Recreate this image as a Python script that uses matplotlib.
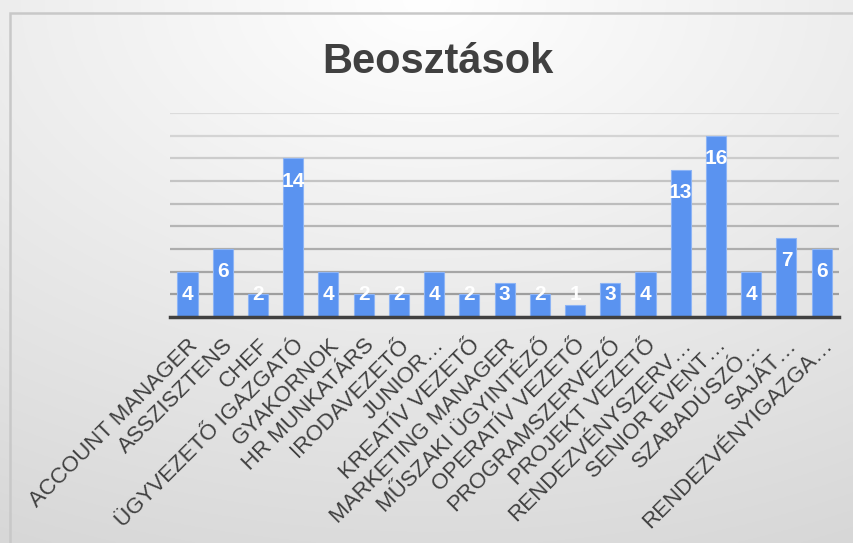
import numpy as np
import matplotlib
matplotlib.use("Agg")
import matplotlib.pyplot as plt
from matplotlib.patches import Rectangle
from matplotlib.transforms import ScaledTranslation

plt.rcParams['font.family'] = ['Liberation Sans', 'DejaVu Sans']

categories = ["ACCOUNT MANAGER", "ASSZISZTENS", "CHEF", "ÜGYVEZETŐ IGAZGATÓ",
              "GYAKORNOK", "HR MUNKATÁRS", "IRODAVEZETŐ", "JUNIOR…",
              "KREATÍV VEZETŐ", "MARKETING MANAGER", "MŰSZAKI ÜGYINTÉZŐ",
              "OPERATÍV VEZETŐ", "PROGRAMSZERVEZŐ", "PROJEKT VEZETŐ",
              "RENDEZVÉNYSZERV…", "SENIOR EVENT…", "SZABADÚSZÓ…", "SAJÁT…",
              "RENDEZVÉNYIGAZGA…"]
values = [4, 6, 2, 14, 4, 2, 2, 4, 2, 3, 2, 1, 3, 4, 13, 16, 4, 7, 6]
title = "Beosztások"

W, H = 854, 543
fig = plt.figure(figsize=(W / 100, H / 100), dpi=100)

# background gradient
bg = fig.add_axes([0, 0, 1, 1], zorder=-10)
yy, xx = np.mgrid[0:1:300j, 0:1:400j]
r = np.sqrt((xx - 0.5) ** 2 + (yy * 1.0) ** 2)
g = np.clip(1.0 - 0.14 * r, 0, 1)
img = np.dstack([g, g, g])
bg.imshow(img, extent=[0, 1, 0, 1], origin='upper', aspect='auto')
bg.set_xlim(0, 1); bg.set_ylim(0, 1)
bg.axis('off')
bg.add_patch(Rectangle((10 / W, -0.1), 1.2, 1 - 13 / H + 0.1, fill=False,
                       edgecolor='#c8c8c8', linewidth=1.8))

ax = fig.add_axes([169.9 / W, (H - 316.7) / H, 669.4 / W, 203.4 / H])
ax.patch.set_alpha(0)
x = np.arange(len(values))
ax.bar(x, values, width=0.57, color='#5a93f0', edgecolor='#8db4f5', linewidth=0.8, zorder=3)
ax.set_xlim(-0.5, len(values) - 0.5)
ax.set_ylim(0, 18)
ax.set_yticks(np.arange(2, 19, 2))
for yv in np.arange(2, 19, 2):
    shade = 0.62 + (yv - 2) / 16 * 0.24
    ax.axhline(yv, color=(shade, shade, shade), linewidth=1.6, zorder=1)
for s in ['top', 'right', 'left']:
    ax.spines[s].set_visible(False)
ax.spines['bottom'].set_color('#404040')
ax.spines['bottom'].set_linewidth(2.5)
ax.spines['bottom'].set_zorder(4)
ax.tick_params(axis='y', left=False, labelleft=False)
ax.tick_params(axis='x', length=0, pad=13)
ax.set_xticks(x)
ax.set_xticklabels(categories, rotation=45, ha='right', va='top',
                   rotation_mode='anchor', fontsize=16, color='#404040')
off = ScaledTranslation(0 / 100, 0, fig.dpi_scale_trans)
for lab in ax.get_xticklabels():
    lab.set_transform(lab.get_transform() + off)

for xi, v in zip(x, values):
    ax.text(xi, max(v - 2, 2), str(v), ha='center', va='center', color='white',
            fontsize=15, fontweight='bold', zorder=5)

fig.text(438 / W, 1 - 73 / H, title, ha='center', va='baseline', fontsize=30,
         fontweight='bold', color='#404040')

fig.savefig('out.png', dpi=100)
